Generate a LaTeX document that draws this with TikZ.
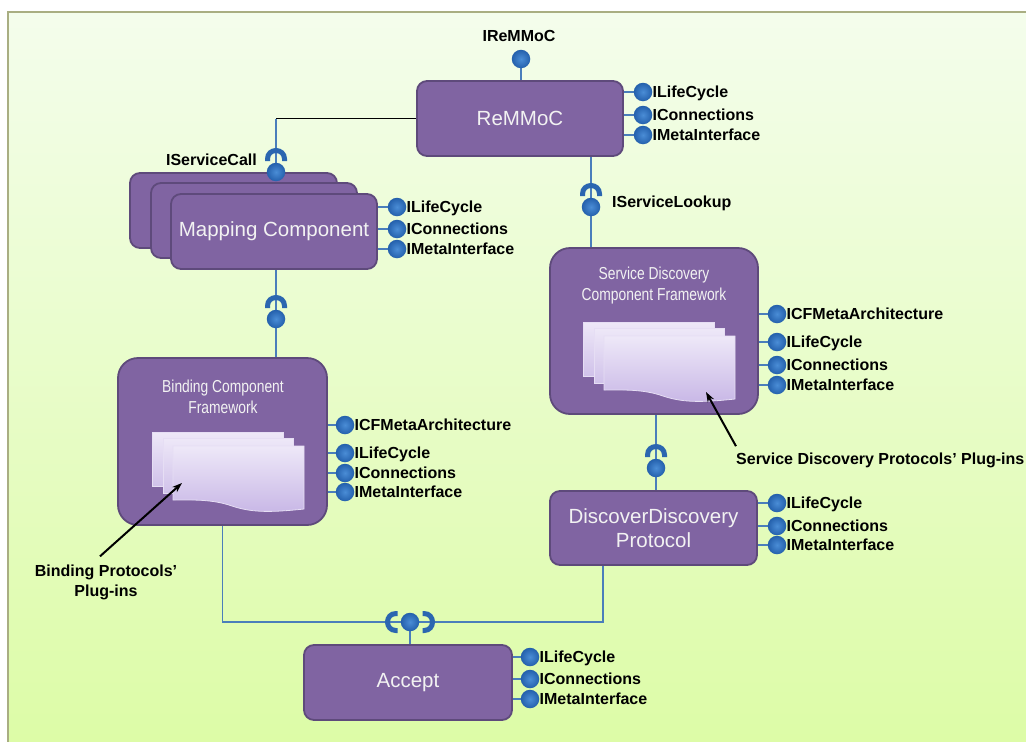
\documentclass[tikz,border=0pt]{standalone}
\usepackage{fontspec}
\setmainfont{Liberation Sans}
\newfontfamily\narrowsf[FakeStretch=0.8]{Liberation Sans}
\usetikzlibrary{arrows.meta}
\pgfdeclarelayer{back}
\pgfdeclarelayer{lines}
\pgfsetlayers{back,lines,main}
\definecolor{bgtop}{HTML}{F4FDEC}
\definecolor{bgbot}{HTML}{DCFCA5}
\definecolor{framecol}{HTML}{A9AE82}
\definecolor{boxfill}{HTML}{8064A2}
\definecolor{boxborder}{HTML}{5E4A7B}
\definecolor{boxtext}{HTML}{F2F2F2}
\definecolor{ballin}{HTML}{4A8DD6}
\definecolor{ballout}{HTML}{2460AC}
\definecolor{sockcol}{HTML}{2B66B0}
\definecolor{linecol}{HTML}{4A7EBB}
\definecolor{pagetop}{HTML}{EEE8F8}
\definecolor{pagebot}{HTML}{C8B7E6}
\definecolor{pageedge}{HTML}{E6DEF4}
\tikzset{
  box/.style={draw=boxborder, line width=1.8pt, fill=boxfill, rounded corners=10pt,
    text=boxtext, font=\fontsize{20.5}{24}\selectfont, inner sep=0pt, align=center},
  bigbox/.style={box, rounded corners=20pt},
  title/.style={text=boxtext, font=\narrowsf\fontsize{17.3}{21}\selectfont, align=center, inner sep=0pt},
  ball/.style={circle, inner sep=0pt, minimum size=18.5pt, inner color=ballin, outer color=ballout, draw=none},
  lbl/.style={font=\bfseries\fontsize{16}{20}\selectfont, inner sep=0pt, text=black},
  conn/.style={draw=linecol, line width=1.5pt},
  sock/.style={draw=sockcol, line width=5pt},
  arr/.style={draw=black, line width=2pt, -{Stealth[length=10pt,width=7pt]}},
  page/.style={draw=pageedge, line width=0.8pt, top color=pagetop, bottom color=pagebot!85!white},
  pagefront/.style={draw=pageedge, line width=0.8pt, top color=pagetop, bottom color=pagebot},
  sockup/.pic={\draw[sock] (-8.5,-11) -- (-8.5,-13) .. controls (-8.5,-24.3) and (8.5,-24.3) .. (8.5,-13) -- (8.5,-11);},
  sockleft/.pic={\draw[sock] (-12.5,-8.5) -- (-14,-8.5) .. controls (-25.3,-8.5) and (-25.3,8.5) .. (-14,8.5) -- (-12.5,8.5);},
  sockright/.pic={\draw[sock] (12.5,-8.5) -- (14,-8.5) .. controls (25.3,-8.5) and (25.3,8.5) .. (14,8.5) -- (12.5,8.5);},
  pages/.pic={
    \draw[page] (0,0) rectangle (131,54);
    \draw[page] (11,6) rectangle (141,61);
    \draw[pagefront] (21,14) -- (152,14) -- (152,77)
      .. controls (115,81) and (98,80) .. (80,74)
      .. controls (60,67) and (40,68) .. (21,68) -- cycle;
  }
}
\newcommand\iface[5]{%
  \node[ball] (#1) at (#3,#4) {};
  \node[lbl, anchor=base west] (#1t) at (#3+9.5,#4+5.8) {#5};
  \begin{pgfonlayer}{lines}\draw[conn] (#2.east |- #1) -- (#1);\end{pgfonlayer}%
}
\begin{document}
\begin{tikzpicture}[x=1pt,y=-1pt]
\useasboundingbox (0,0) rectangle (1026,742);
\begin{pgfonlayer}{back}
  \fill[white] (0,0) rectangle (1026,742);
  \shadedraw[top color=bgtop, bottom color=bgbot, draw=framecol, line width=1.2pt] (8,12) rectangle (1040,760);
\end{pgfonlayer}

% boxes
\node[box, minimum width=206pt, minimum height=75pt] (remmoc) at (520,118.5) {ReMMoC};
\node[box, minimum width=207pt, minimum height=75pt] (map3) at (233.5,210.5) {};
\node[box, minimum width=206pt, minimum height=75pt] (map2) at (254,220.5) {};
\node[box, minimum width=206pt, minimum height=75pt] (map) at (274,231.5) {Mapping Component};
\node[bigbox, minimum width=209pt, minimum height=167pt] (bcf) at (222.5,441.5) {};
\node[title] (bcft) at (223,397) {Binding Component\\Framework};
\pic at (152,432) {pages};
\node[bigbox, minimum width=208pt, minimum height=166pt] (sdcf) at (654,331) {};
\node[title] (sdcft) at (654,285.5) {Service Discovery\\Component Framework};
\pic at (583,322) {pages};
\node[box, minimum width=207pt, minimum height=74pt] (dd) at (653.5,528) {DiscoverDiscovery\\Protocol};
\node[box, minimum width=208pt, minimum height=75pt] (accept) at (408,682.5) {Accept};

% provided / required interfaces between components
\node[ball] (ir) at (521,59) {};
\node[lbl] (irt) at (519,36) {IReMMoC};
\node[ball] (bcall) at (276,172) {};
\node[lbl, anchor=base east] (isc) at (257,165.8) {IServiceCall};
\node[ball] (bbind) at (276,319) {};
\node[ball] (blook) at (591,207) {};
\node[lbl, anchor=base west] (isl) at (612,207.8) {IServiceLookup};
\node[ball] (bsd) at (656,468) {};
\node[ball] (bacc) at (410,622) {};
\coordinate (ddout) at ([xshift=-50.5pt]dd.south);

\begin{pgfonlayer}{lines}
  \draw[conn] (ir) -- (ir |- remmoc.north);
  \draw[black, line width=1.8pt] (remmoc.west) -- (remmoc.west -| bcall);
  \draw[conn] (remmoc.west -| bcall) -- (bcall);
  \draw[conn] (bcall) -- (bcall |- map.north);
  \draw[conn] (bbind |- map.south) -- (bbind |- bcf.north);
  \draw[conn] (blook |- remmoc.south) -- (blook |- sdcf.north);
  \draw[conn] (bsd |- sdcf.south) -- (bsd |- dd.north);
  \draw[conn] (bcf.south) |- (bacc);
  \draw[conn] (ddout) |- (bacc);
  \draw[conn] (bacc) -- (bacc |- accept.north);
\end{pgfonlayer}

\pic at (bcall.center) {sockup};
\pic at (bbind.center) {sockup};
\pic at (blook.center) {sockup};
\pic at (bsd.center) {sockup};
\pic at (bacc.center) {sockleft};
\pic at (bacc.center) {sockright};

% side interfaces
\iface{r1}{remmoc}{643}{92}{ILifeCycle}
\iface{r2}{remmoc}{643}{115}{IConnections}
\iface{r3}{remmoc}{643}{135}{IMetaInterface}
\iface{m1}{map}{397}{207}{ILifeCycle}
\iface{m2}{map}{397}{229}{IConnections}
\iface{m3}{map}{397}{249}{IMetaInterface}
\iface{b0}{bcf}{345}{425}{ICFMetaArchitecture}
\iface{b1}{bcf}{345}{453}{ILifeCycle}
\iface{b2}{bcf}{345}{473}{IConnections}
\iface{b3}{bcf}{345}{492}{IMetaInterface}
\iface{s0}{sdcf}{777}{314}{ICFMetaArchitecture}
\iface{s1}{sdcf}{777}{342}{ILifeCycle}
\iface{s2}{sdcf}{777}{365}{IConnections}
\iface{s3}{sdcf}{777}{385}{IMetaInterface}
\iface{d1}{dd}{777}{503}{ILifeCycle}
\iface{d2}{dd}{777}{526}{IConnections}
\iface{d3}{dd}{777}{545}{IMetaInterface}
\iface{a1}{accept}{530}{657}{ILifeCycle}
\iface{a2}{accept}{530}{679}{IConnections}
\iface{a3}{accept}{530}{699}{IMetaInterface}

% plug-in annotations
\coordinate (bph) at (182,483);
\node[lbl, align=center] (bpl) at (106,582) {Binding Protocols'\\Plug-ins};
\draw[arr] ([shift={(-6pt,8pt)}]bpl.north) -- (bph);
\coordinate (sdh) at (706,392);
\node[lbl, anchor=base west] (sdl) at (736,464) {Service Discovery Protocols' Plug-ins};
\draw[arr] ([shift={(0pt,6pt)}]sdl.north west) -- (sdh);
\end{tikzpicture}
\end{document}
